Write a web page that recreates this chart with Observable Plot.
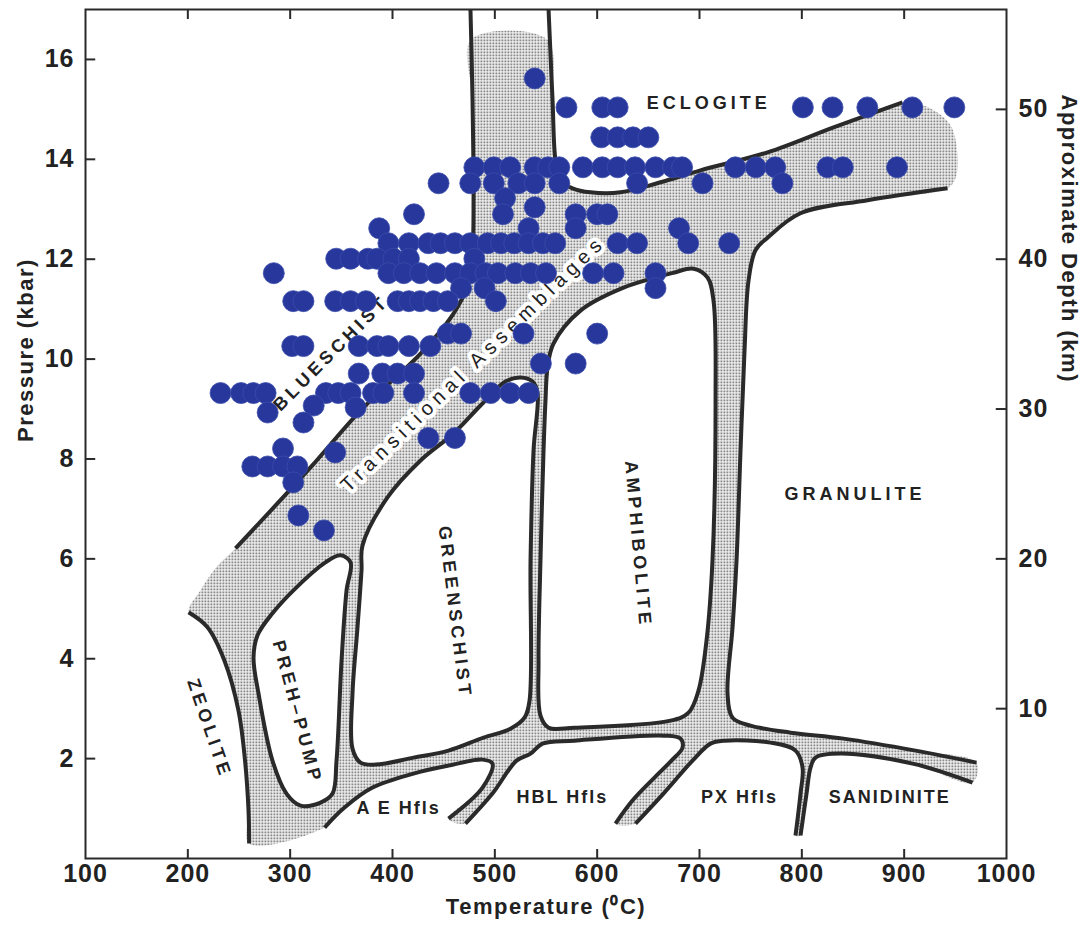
<!DOCTYPE html>
<html>
<head>
<meta charset="utf-8">
<script src="https://cdn.jsdelivr.net/npm/d3@7"></script>
<script src="https://cdn.jsdelivr.net/npm/@observablehq/plot@0.6"></script>
<style>
  html, body { margin: 0; padding: 0; background: #fff; }
  #chart svg { display: block; }
</style>
</head>
<body>
<div id="chart"></div>
<script>
// ---------- axes ----------
const xTicks = [100, 200, 300, 400, 500, 600, 700, 800, 900, 1000];
const pressureTicks = [2, 4, 6, 8, 10, 12, 14, 16];
const depthTicksKm = [10, 20, 30, 40, 50];
const kbarPerKm = 0.3;

// ---------- sample points (rows of equal pressure, kbar) ----------
const rowPressure = [15.62, 15.04, 14.44, 13.84, 13.52, 13.22, 13.04, 12.9, 12.62, 12.32, 12.01, 11.72, 11.42, 11.16,
  10.51, 10.26, 9.91, 9.71, 9.32, 9.07, 9.03, 8.93, 8.73, 8.42, 8.21, 8.13, 7.85, 7.53, 6.87, 6.57];
const rowTemps = [
  [539],
  [570, 605, 620, 801, 830, 864, 908, 949],
  [604, 620, 635, 650],
  [480, 499, 515, 539, 552, 563, 586, 605, 620, 637, 657, 674, 683, 735, 755, 774, 825, 840, 893],
  [445, 476, 499, 523, 539, 563, 639, 703, 781],
  [510],
  [539],
  [421, 508, 579, 600, 610],
  [387, 533, 579, 680],
  [396, 416, 435, 447, 461, 476, 493, 506, 519, 533, 547, 559, 620, 639, 689, 729],
  [345, 359, 376, 385, 401, 416, 480],
  [284, 396, 411, 427, 443, 461, 476, 491, 503, 520, 535, 550, 596, 616, 657],
  [467, 490, 657],
  [303, 313, 344, 359, 374, 405, 416, 427, 440, 454, 501],
  [454, 467, 528, 600],
  [302, 313, 367, 385, 396, 416, 437],
  [545, 579],
  [367, 390, 405, 421],
  [232, 252, 264, 276, 335, 347, 359, 381, 391, 421, 476, 496, 515, 533],
  [323],
  [364],
  [278],
  [313],
  [435, 461],
  [293],
  [344],
  [263, 278, 293, 307],
  [303],
  [308],
  [333]
];

// ---------- facies boundaries [T (°C), P (kbar)] ----------
const upperLeftLine = [[246.6, 6.21], [319.9, 7.83], [368.7, 8.97], [427.4, 10.11], [459.6, 10.91], [473.3, 11.47],
  [478.2, 12.18], [479.2, 13.18], [478.2, 15.18], [476.2, 17]];
const eclogiteLine = [[552.5, 17], [556.4, 15.18], [559.3, 13.98], [564.2, 13.58], [575.9, 13.42], [593.5, 13.34],
  [622.8, 13.34], [661.9, 13.54], [701, 13.78], [766.5, 14.14], [831, 14.64], [898.4, 15.14]];
const granuliteLine = [[942.4, 13.42], [864.2, 13.18], [798.7, 12.92], [766.5, 12.43], [754.7, 12.18], [747.9, 11.57],
  [744, 10.17], [740.1, 8.17], [736.2, 5.97], [732.3, 4.63], [727.4, 3.3], [732.3, 2.82], [749.9, 2.66], [789, 2.52],
  [840.7, 2.4], [911.1, 2.16], [970.7, 1.92]];
const sanidiniteLine = [[798.7, 0.46], [804.6, 1.3], [808.5, 1.82], [813.4, 2.02], [837.8, 2.1], [908.2, 1.9], [966.8, 1.52]];
const pxHflsLine = [[637.5, 0.7], [664.8, 1.3], [693.2, 1.96], [710.8, 2.3], [724.5, 2.36], [769.4, 2.32], [793.8, 2.16],
  [800.7, 1.82], [798.7, 1.3], [793.8, 0.46]];
const hblHflsLine = [[471.3, 0.7], [497.7, 1.3], [521.2, 1.96], [534.9, 2.1], [546.6, 2.3], [577.9, 2.36], [665.8, 2.46],
  [681.4, 2.4], [683.4, 2.22], [672.6, 1.96], [656, 1.62], [634.5, 1.16], [617.9, 0.7]];
const aeHflsLine = [[333.6, 0.62], [353.1, 1.02], [380.5, 1.42], [420.5, 1.7], [454.7, 1.86], [488, 1.98], [497.7, 1.9],
  [488, 1.42], [454.7, 0.8]];
const zeoliteLine = [[200.7, 4.93], [219.2, 4.63], [235.8, 3.96], [249.5, 2.96], [255.9, 1.96], [259.3, 0.96], [259.9, 0.3]];
const prehPumpBox = [[359, 5.93], [349.2, 6.07], [334.5, 5.93], [306.2, 5.43], [282.7, 4.91], [268.1, 4.47], [264.2, 4.02],
  [269.1, 3.3], [282.7, 1.96], [296.4, 1.3], [310.1, 1.06], [329.7, 1.12], [341.4, 1.3], [345.3, 1.96], [350.2, 3.96], [355.1, 5.37]];
const greenschistBox = [[370.7, 6.27], [395.1, 7.23], [427.4, 7.97], [459.6, 8.51], [486, 9.07], [510.4, 9.55], [525.1, 9.63],
  [536.8, 9.55], [541.7, 9.33], [537.8, 8.17], [534.9, 5.97], [533.9, 3.16], [529, 2.82], [515.3, 2.6], [488.9, 2.42],
  [454.7, 2.16], [420.5, 2.02], [383.4, 1.88], [368.7, 1.92], [360.9, 2.2], [360.9, 3.3], [365.8, 4.63], [369.7, 5.77]];
const amphiboliteBox = [[549.5, 9.17], [551.5, 9.83], [557.3, 10.31], [583.7, 10.97], [625.8, 11.43], [674.7, 11.73],
  [694.2, 11.81], [707.9, 11.63], [713.7, 11.17], [715.7, 9.17], [712.7, 5.97], [706.9, 4.37], [699, 3.36], [689.3, 2.92],
  [671.7, 2.76], [577.9, 2.62], [552.5, 2.62], [544.6, 2.86], [542.7, 3.96], [544.6, 5.97], [547.6, 8.17]];
// soft (unlined) edges of the stippled transition zones
const stippleTopEdge = [[477, 16.4], [551, 16.4]];
const stippleRightEdge = [[925.7, 15.02], [945.3, 14.68], [952.1, 14.08], [950.2, 13.62]];
const stippleLeftEdge = [[212.4, 5.37], [227, 5.81]];

// ---------- labels ----------
const faciesNames = ["ECLOGITE", "BLUESCHIST", "GREENSCHIST", "AMPHIBOLITE", "GRANULITE", "ZEOLITE", "PREH\u2013PUMP",
  "A E Hfls", "HBL Hfls", "PX Hfls", "SANIDINITE"];
const faciesT = [709, 340, 461, 640, 852, 221, 307, 406, 566, 739, 886];
const faciesP = [15.12, 10.12, 4.93, 6.29, 7.29, 2.6, 2.93, 1.0, 1.22, 1.22, 1.22];
const transitionLabel = {name: "Transitional Assemblages", T: 479, P: 9.91};
const axisTitles = {x: "Temperature (\u2070C)", y: "Pressure (kbar)", depth: "Approximate Depth (km)"};

// ---------- build tables ----------
const pts = a => a.map(([T, P]) => ({T, P}));
const rev = a => a.slice().reverse();
const dots = rowPressure.flatMap((p, i) => rowTemps[i].map(t => ({T: t, P: p})));
const stipplePolygon = [
  ...upperLeftLine.slice(0, -1), ...stippleTopEdge, ...eclogiteLine.slice(1), ...stippleRightEdge,
  ...granuliteLine, ...rev(sanidiniteLine), ...rev(pxHflsLine), ...rev(hblHflsLine), ...rev(aeHflsLine),
  ...rev(zeoliteLine), ...stippleLeftEdge
];
const labels = faciesNames.map((name, i) => ({name, T: faciesT[i], P: faciesP[i]}));
const rotation = {"BLUESCHIST": -45, "GREENSCHIST": 83, "AMPHIBOLITE": 85, "ZEOLITE": 71, "PREH\u2013PUMP": 75};
const wide = new Set(["ECLOGITE", "BLUESCHIST", "GREENSCHIST", "AMPHIBOLITE", "GRANULITE", "ZEOLITE", "PREH\u2013PUMP"]);

const ink = "#2a2a2a";
const lineStyle = {x: "T", y: "P", curve: "catmull-rom", stroke: ink, strokeWidth: 4, strokeLinecap: "butt"};
const boxStyle = {x: "T", y: "P", curve: "catmull-rom-closed", fill: "white", stroke: ink, strokeWidth: 4};
const tickText = {tickSize: 0, label: null, fontSize: 25, fontWeight: "bold", tickFormat: d => String(d)};

const chart = Plot.plot({
  width: 1083,
  height: 929,
  marginLeft: 85,
  marginRight: 77,
  marginTop: 9,
  marginBottom: 71,
  x: {domain: [100, 1000], axis: null},
  y: {domain: [0, 17], axis: null},
  style: {fontFamily: "'Liberation Sans', Arial, sans-serif", color: "#222", background: "white"},
  marks: [
    Plot.line(pts(stipplePolygon), {x: "T", y: "P", curve: "catmull-rom-closed", fill: "url(#stipple)", stroke: "none"}),
    Plot.line(pts(prehPumpBox), boxStyle),
    Plot.line(pts(greenschistBox), boxStyle),
    Plot.line(pts(amphiboliteBox), boxStyle),
    Plot.line(pts(upperLeftLine), lineStyle),
    Plot.line(pts(eclogiteLine), lineStyle),
    Plot.line(pts(granuliteLine), lineStyle),
    Plot.line(pts(sanidiniteLine), lineStyle),
    Plot.line(pts(pxHflsLine), lineStyle),
    Plot.line(pts(hblHflsLine), lineStyle),
    Plot.line(pts(aeHflsLine), lineStyle),
    Plot.line(pts(zeoliteLine), lineStyle),
    Plot.frame({stroke: ink, strokeWidth: 2}),
    // inward ticks
    Plot.ruleX(xTicks.slice(1, -1), {x: d => d, y1: 0, y2: 0.18, stroke: ink, strokeWidth: 2}),
    Plot.ruleX(xTicks.slice(1, -1), {x: d => d, y1: 16.8, y2: 17, stroke: ink, strokeWidth: 2}),
    Plot.ruleY(pressureTicks, {y: d => d, x1: 100, x2: 110, stroke: ink, strokeWidth: 2}),
    Plot.ruleY(depthTicksKm, {y: d => d * kbarPerKm, x1: 990, x2: 1000, stroke: ink, strokeWidth: 2}),
    // tick labels
    Plot.axisX(xTicks, {...tickText, tickPadding: 6}),
    Plot.axisY(pressureTicks, {...tickText, tickPadding: 11}),
    Plot.axisY(depthTicksKm.map(d => d * kbarPerKm), {...tickText, anchor: "right", tickPadding: 12,
      tickFormat: p => String(Math.round(p / kbarPerKm))}),
    // axis titles
    Plot.text([axisTitles.x], {frameAnchor: "bottom", dy: 55, fontSize: 22, fontWeight: "bold"}),
    Plot.text([axisTitles.y], {frameAnchor: "left", dx: -60, dy: 8, rotate: -90, fontSize: 22, fontWeight: "bold"}),
    Plot.text([axisTitles.depth], {frameAnchor: "right", dx: 63, dy: -51, rotate: 90, fontSize: 22, fontWeight: "bold"}),
    // facies labels
    Plot.text(labels, {x: "T", y: "P", text: "name", rotate: d => rotation[d.name] || 0,
      fontSize: 18, fontWeight: "bold", fill: "#222"}),
    Plot.text([transitionLabel], {x: "T", y: "P", text: "name", rotate: -44, fontSize: 20, fill: "#222",
      stroke: "white", strokeWidth: 8}),
    // samples
    Plot.dot(dots, {x: "T", y: "P", r: 10.5, fill: "#27379b", stroke: "#3b4cab", strokeWidth: 0.8})
  ]
});

const svg = d3.select(chart);
const defs = svg.insert("defs", ":first-child");
const pat = defs.append("pattern").attr("id", "stipple").attr("width", 3).attr("height", 3)
  .attr("patternUnits", "userSpaceOnUse");
pat.append("rect").attr("width", 3).attr("height", 3).attr("fill", "#fff");
pat.append("rect").attr("width", 1.7).attr("height", 1.7).attr("fill", "#5a5a5a");

const spacingFor = t => {
  if (wide.has(t)) return 4;
  if (faciesNames.includes(t)) return 2;
  if (t === transitionLabel.name) return 5.5;
  if (Object.values(axisTitles).includes(t)) return 1.5;
  return 1;
};
svg.selectAll("text").each(function () {
  this.setAttribute("letter-spacing", spacingFor(this.textContent));
});

document.getElementById("chart").appendChild(chart);
</script>
</body>
</html>
